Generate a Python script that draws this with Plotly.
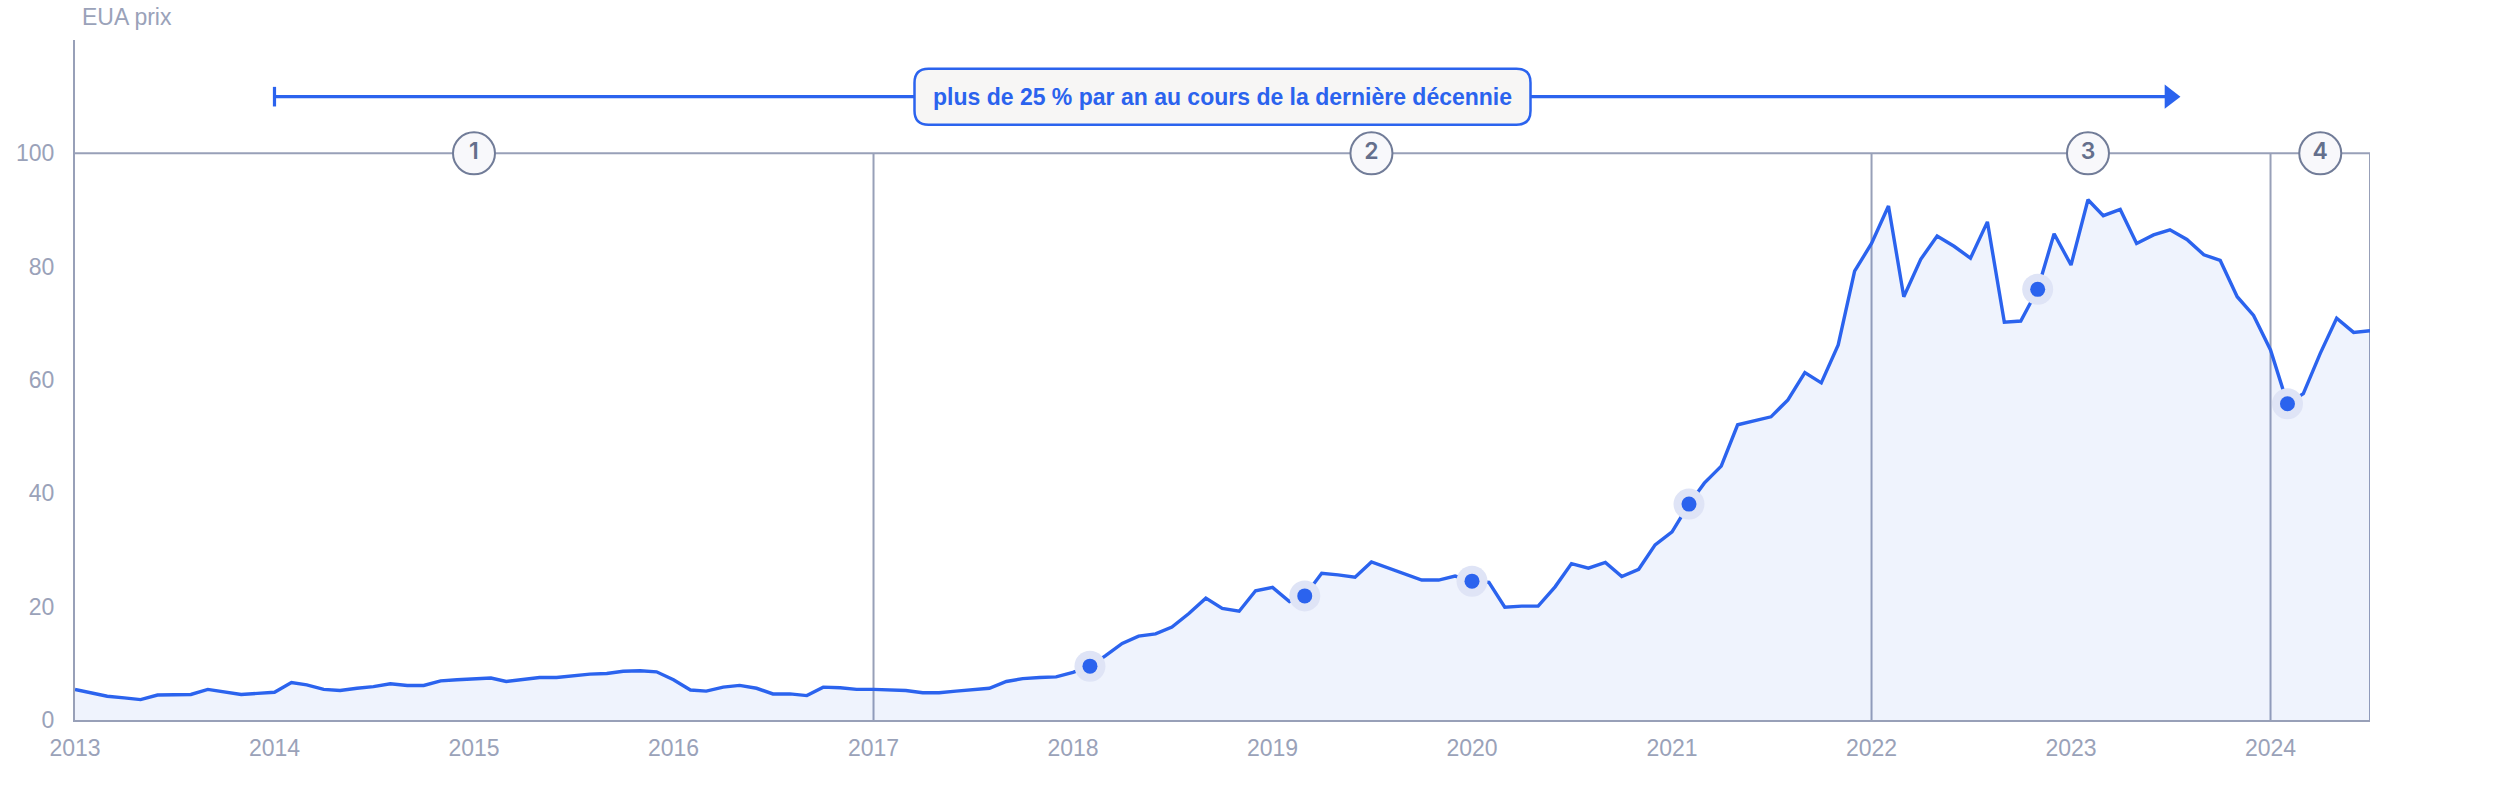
import pandas as pd
import plotly.graph_objects as go

# ---------------- data ----------------
start_month = "2013-01-01"
prices = [
    5.4, 4.7, 4.2, 3.9, 3.6, 4.4, 4.4, 4.5, 5.4, 4.9, 4.5, 4.7,        # 2013
    4.9, 6.6, 6.2, 5.4, 5.2, 5.6, 5.9, 6.4, 6.1, 6.1, 6.9, 7.1,        # 2014
    7.2, 7.4, 6.8, 7.2, 7.5, 7.5, 7.8, 8.1, 8.2, 8.6, 8.7, 8.5,        # 2015
    7.1, 5.3, 5.1, 5.8, 6.1, 5.6, 4.6, 4.6, 4.3, 5.8, 5.7, 5.4,        # 2016
    5.4, 5.3, 5.2, 4.8, 4.8, 5.1, 5.4, 5.6, 6.8, 7.3, 7.5, 7.6,        # 2017
    8.4, 9.5, 11.3, 13.5, 14.8, 15.2, 16.4, 18.8, 21.5, 19.7, 19.2, 22.8,  # 2018
    23.4, 20.9, 21.9, 25.9, 25.6, 25.2, 27.9, 26.8, 25.7, 24.7, 24.7, 25.4,  # 2019
    24.5, 24.3, 19.9, 20.1, 20.1, 23.5, 27.6, 26.8, 27.8, 25.3, 26.6, 30.9,  # 2020
    33.2, 38.1, 41.8, 44.8, 52.1, 52.8, 53.5, 56.5, 61.3, 59.5, 66.2, 79.2,  # 2021
    84.1, 90.7, 74.7, 81.3, 85.4, 83.6, 81.5, 87.9, 70.2, 70.4, 76.0, 85.8,  # 2022
    80.3, 91.8, 89.0, 90.1, 84.1, 85.6, 86.5, 84.8, 82.1, 81.1, 74.7, 71.4,  # 2023
    65.3, 55.8, 57.6, 64.7, 70.9, 68.4, 68.7,                                # 2024
]
dates = pd.date_range(start_month, periods=len(prices), freq="MS")

highlight_dates = ["2018-02-01", "2019-03-01", "2020-01-01",
                   "2021-02-01", "2022-11-01", "2024-02-01"]

phase_bounds = ["2017-01-01", "2022-01-01", "2024-01-01", "2024-07-01"]
phase_labels = ["1", "2", "3", "4"]
phase_label_dates = ["2015-01-01", "2019-07-01", "2023-02-01", "2024-04-01"]
phase_level = 100

arrow_start = "2014-01-01"
arrow_end = "2023-07-01"
arrow_level = 110
arrow_text = "plus de 25 % par an au cours de la dernière décennie"

y_ticks = [0, 20, 40, 60, 80, 100]
x_ticks = [f"{y}-01-01" for y in range(2013, 2025)]
y_title = "EUA prix"

# ---------------- styles ----------------
BLUE = "#2b63ee"
AXIS = "#98a0b8"
TICK = "#9aa2b9"
SLATE = "#646f8c"
W, H = 2496, 800
ML, MR, MT, MB = 75, 126, 40, 80
PW, PH = W - ML - MR, H - MT - MB
FS = 23

series = pd.Series(prices, index=dates)
hl_idx = pd.to_datetime(highlight_dates)
hl_vals = series.loc[hl_idx].values

fig = go.Figure()

fig.add_trace(go.Scatter(
    x=dates, y=prices, mode="lines",
    line=dict(color=BLUE, width=3.4),
    fill="tozeroy", fillcolor="rgba(45,100,235,0.08)",
    hoverinfo="x+y", showlegend=False,
))

# highlight halos + dots
fig.add_trace(go.Scatter(
    x=hl_idx, y=hl_vals, mode="markers",
    marker=dict(size=31, color="#dfe4f6"), showlegend=False, hoverinfo="skip",
))
fig.add_trace(go.Scatter(
    x=hl_idx, y=hl_vals, mode="markers",
    marker=dict(size=15, color=BLUE), showlegend=False,
))

# arrow: shaft, start tick, head
fig.add_trace(go.Scatter(
    x=[arrow_start, arrow_end], y=[arrow_level, arrow_level], mode="lines",
    line=dict(color=BLUE, width=3.2),
    showlegend=False, hoverinfo="skip", cliponaxis=False,
))
fig.add_trace(go.Scatter(
    x=[arrow_start], y=[arrow_level], mode="markers",
    marker=dict(symbol="line-ns", size=14, color=BLUE, line=dict(color=BLUE, width=3.2)),
    showlegend=False, hoverinfo="skip", cliponaxis=False,
))
fig.add_trace(go.Scatter(
    x=[arrow_end], y=[arrow_level], mode="markers",
    marker=dict(symbol="triangle-right", size=21, color=BLUE, opacity=1,
                line=dict(width=0)),
    showlegend=False, hoverinfo="skip", cliponaxis=False,
))

# phase circles
fig.add_trace(go.Scatter(
    x=phase_label_dates, y=[phase_level] * len(phase_labels), mode="markers+text",
    text=phase_labels, textposition="middle center",
    textfont=dict(family="Inter", size=23, color=SLATE, weight=600),
    marker=dict(size=42, color="#f8f8fb", line=dict(color="#717c98", width=2)),
    showlegend=False, hoverinfo="skip", cliponaxis=False,
))

shapes = [
    dict(type="line", xref="paper", yref="y", x0=0, x1=1, y0=phase_level, y1=phase_level,
         line=dict(color=AXIS, width=2), layer="below"),
]
for b in phase_bounds:
    shapes.append(dict(type="line", xref="x", yref="y", x0=b, x1=b, y0=0, y1=phase_level,
                       line=dict(color=AXIS, width=2), layer="below"))

# rounded label box around the arrow text (pixel sizes -> paper units)
bw, bh, rad = 616, 56, 14
cx = 0.5
cy = arrow_level / 120
hx, hy = bw / 2 / PW, bh / 2 / PH
rx, ry = rad / PW, rad / PH
x0, x1, y0, y1 = cx - hx, cx + hx, cy - hy, cy + hy
path = (f"M{x0+rx},{y0} L{x1-rx},{y0} Q{x1},{y0} {x1},{y0+ry} "
        f"L{x1},{y1-ry} Q{x1},{y1} {x1-rx},{y1} L{x0+rx},{y1} "
        f"Q{x0},{y1} {x0},{y1-ry} L{x0},{y0+ry} Q{x0},{y0} {x0+rx},{y0} Z")
shapes.append(dict(type="path", xref="paper", yref="paper", path=path,
                   fillcolor="#f7f6f5", line=dict(color=BLUE, width=2.5), layer="above"))

annotations = [
    dict(x=cx, y=cy, xref="paper", yref="paper", text=f"<b>{arrow_text}</b>",
         showarrow=False, font=dict(family="Liberation Sans", size=23, color=BLUE),
         xanchor="center", yanchor="middle"),
]

fig.update_layout(
    width=W, height=H, autosize=False,
    margin=dict(l=ML, r=MR, t=MT, b=MB, pad=0),
    paper_bgcolor="white", plot_bgcolor="white",
    shapes=shapes, annotations=annotations,
    showlegend=False,
    font=dict(family="Liberation Sans", size=FS, color=TICK),
    title=dict(text=y_title, xref="container", yref="container",
               x=82 / W, xanchor="left", y=1 - 17 / H, yanchor="middle",
               font=dict(family="Liberation Sans", size=FS, color=TICK)),
)
fig.update_xaxes(
    type="date", range=[dates[0], dates[-1]],
    tickvals=x_ticks, tickformat="%Y",
    showgrid=False, zeroline=False, showline=True, linecolor=AXIS, linewidth=2,
    ticks="", ticklabelstandoff=6,
    tickfont=dict(family="Liberation Sans", size=FS, color=TICK),
)
fig.update_yaxes(
    range=[0, 120], tickvals=y_ticks,
    showgrid=False, zeroline=False, showline=True, linecolor=AXIS, linewidth=2,
    ticks="", ticklabelstandoff=14,
    tickfont=dict(family="Liberation Sans", size=FS, color=TICK),
)

fig.write_html("out.html", config={"displayModeBar": False},
               post_script="document.body.style.margin='0';")
